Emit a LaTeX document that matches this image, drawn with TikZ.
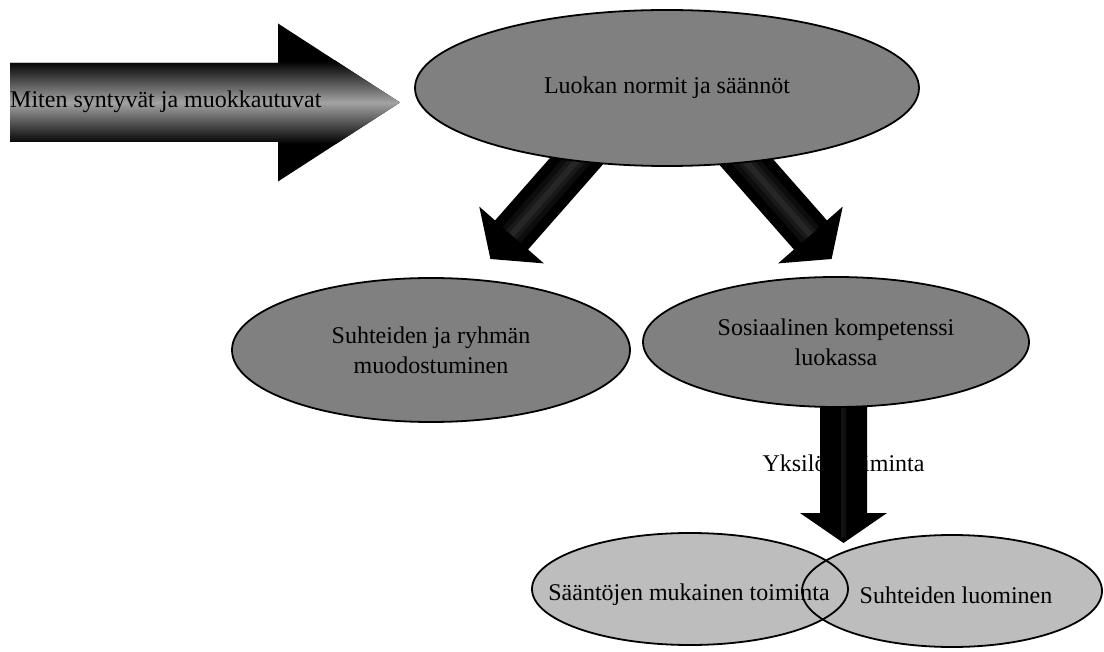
\documentclass[tikz,border=0pt]{standalone}
\usepackage{fontspec}
\setmainfont{Liberation Serif}
\usetikzlibrary{calc,shapes.geometric}

\colorlet{ovaldark}{black!50}
\colorlet{ovallight}{black!26}
\colorlet{bandlight}{black!36}

% block arrow from #2 to the tip #3:
% #4 half shaft width, #5 half head width, #6 head length, #1 path options
\newcommand\blockarrow[6][fill=black]{%
  \coordinate (ba-h) at ($(#3)!#6!(#2)$);
  \path[#1] ($(#2)!#4!90:(#3)$) -- ($(ba-h)!#4!-90:(#2)$)
    -- ($(ba-h)!#5!-90:(#2)$) -- (#3) -- ($(ba-h)!#5!90:(#2)$)
    -- ($(ba-h)!#4!90:(#2)$) -- ($(#2)!#4!-90:(#3)$) -- cycle;
}
% soft grey core running down the shaft of a block arrow
\newcommand\arrowcore[2]{%
  \coordinate (ac-h) at ($(#2)!32pt!(#1)$);
  \draw[line width=24pt, black!95] (#1) -- (ac-h);
  \draw[line width=14pt, black!90] (#1) -- (ac-h);
  \draw[line width=6pt, black!85] (#1) -- (ac-h);
}

\begin{document}
\begin{tikzpicture}[x=1pt,y=-1pt,
  txt/.style={font=\fontsize{24}{30}\selectfont, text=black, inner sep=0pt, align=center},
  darkoval/.style={ellipse, draw=black, line width=1.8pt, fill=ovaldark,
    inner sep=0pt, align=center, font=\fontsize{24}{30}\selectfont},
  lightoval/.style={ellipse, fill=ovallight, inner sep=0pt},
  rim/.style={draw=black, line width=1.8pt}]
\useasboundingbox (0,0) rectangle (1104,652);

% label under the vertical arrow
\node[txt] (indiv) at (843.5,463) {Yksilön toiminta};

% horizontal arrow: black body with a light band along the shaft
\coordinate (bigtail) at (10,102.5);
\coordinate (bigtip) at (400,102.5);
\blockarrow{bigtail}{bigtip}{39.5pt}{79pt}{122pt}
\begin{scope}
  \blockarrow[clip]{bigtail}{bigtip}{39.5pt}{79pt}{122pt}
  \shade[top color=black, bottom color=black, middle color=bandlight]
    (10,61) rectangle (400,144);
\end{scope}

% diagonal arrows
\coordinate (lefttail) at (596,139);
\coordinate (lefttip) at (490.4,259);
\blockarrow{lefttail}{lefttip}{22pt}{43pt}{32pt}
\arrowcore{lefttail}{lefttip}

\coordinate (righttail) at (726,139);
\coordinate (righttip) at (831.6,259);
\blockarrow{righttail}{righttip}{22pt}{43pt}{32pt}
\arrowcore{righttail}{righttip}

% vertical arrow
\coordinate (downtail) at (843.5,380);
\coordinate (downtip) at (843.5,543);
\blockarrow{downtail}{downtip}{23.5pt}{43.5pt}{30pt}
\draw[line width=5pt, black!93] (downtail) -- ($(downtip)+(0,-6)$);

\node[txt, anchor=west] (origin) at (10,102) {Miten syntyvät ja muokkautuvat};

% ovals
\node[darkoval, minimum width=504pt, minimum height=156pt] (norms) at (667,88)
  {Luokan normit ja säännöt};
\node[darkoval, minimum width=398pt, minimum height=144pt] (group) at (431,350)
  {Suhteiden ja ryhmän\\muodostuminen};
\node[darkoval, minimum width=386pt, minimum height=130pt] (social) at (836,342)
  {Sosiaalinen kompetenssi\\luokassa};

% overlapping pair at the bottom
\node[lightoval, minimum width=316pt, minimum height=112pt] (rules) at (690,589) {};
\node[lightoval, minimum width=300pt, minimum height=112pt] (bonds) at (952,591) {};
\node[txt] (rulestext) at (689,595) {Sääntöjen mukainen toiminta};
\node[txt] (bondstext) at (956,595) {Suhteiden luominen};
\draw[rim] (rules.center) ellipse [x radius=158, y radius=56];
\draw[rim] (bonds.center) ellipse [x radius=150, y radius=56];
\end{tikzpicture}
\end{document}
